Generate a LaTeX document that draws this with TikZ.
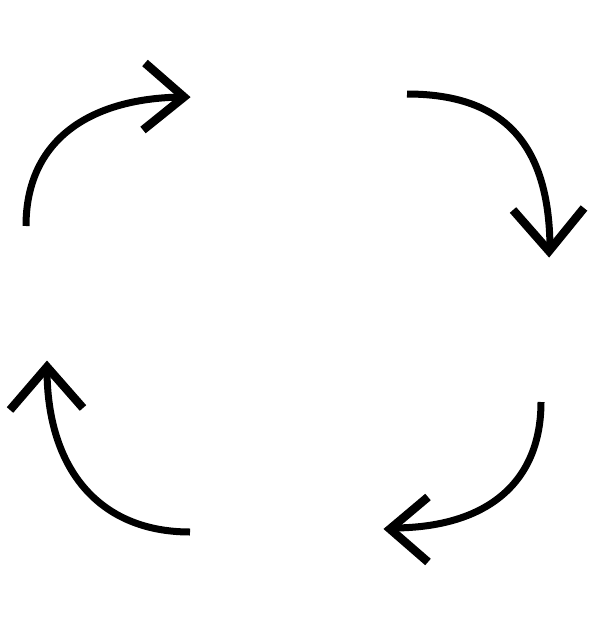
\documentclass[tikz,border=0pt]{standalone}
\begin{document}
\begin{tikzpicture}[x=1pt,y=-1pt,
  shaft/.style={line width=7pt,black,line cap=butt},
  head/.style={line width=8.5pt,black,line join=miter,miter limit=10,line cap=butt}]
\fill[white] (0,0) rectangle (591,634);
\useasboundingbox (0,0) rectangle (591,634);
% top-left arrow
\coordinate (a1s) at (26,226);
\coordinate (a1e) at (186,97);
\coordinate (a1t) at (184,97);
\coordinate (a1u) at (145,63);
\coordinate (a1l) at (143,130);
\draw[shaft] (a1s) .. controls (26,140) and (90,97) .. (a1e);
\draw[head] (a1u) -- (a1t) -- (a1l);
% top-right arrow
\coordinate (a2s) at (407,94);
\coordinate (a2e) at (550,250);
\coordinate (a2t) at (549,251);
\coordinate (a2u) at (513,210);
\coordinate (a2l) at (584,208);
\draw[shaft] (a2s) .. controls (500,94) and (550,140) .. (a2e);
\draw[head] (a2u) -- (a2t) -- (a2l);
% bottom-right arrow
\coordinate (a3s) at (541,402);
\coordinate (a3e) at (392,528);
\coordinate (a3t) at (390,529);
\coordinate (a3u) at (428,497);
\coordinate (a3l) at (428,562);
\draw[shaft] (a3s) .. controls (541,480) and (490,528) .. (a3e);
\draw[head] (a3u) -- (a3t) -- (a3l);
% bottom-left arrow
\coordinate (a4s) at (190,532);
\coordinate (a4e) at (47,369);
\coordinate (a4t) at (47,367);
\coordinate (a4u) at (10,410);
\coordinate (a4l) at (83,408);
\draw[shaft] (a4s) .. controls (100,532) and (47,470) .. (a4e);
\draw[head] (a4u) -- (a4t) -- (a4l);
\end{tikzpicture}
\end{document}
